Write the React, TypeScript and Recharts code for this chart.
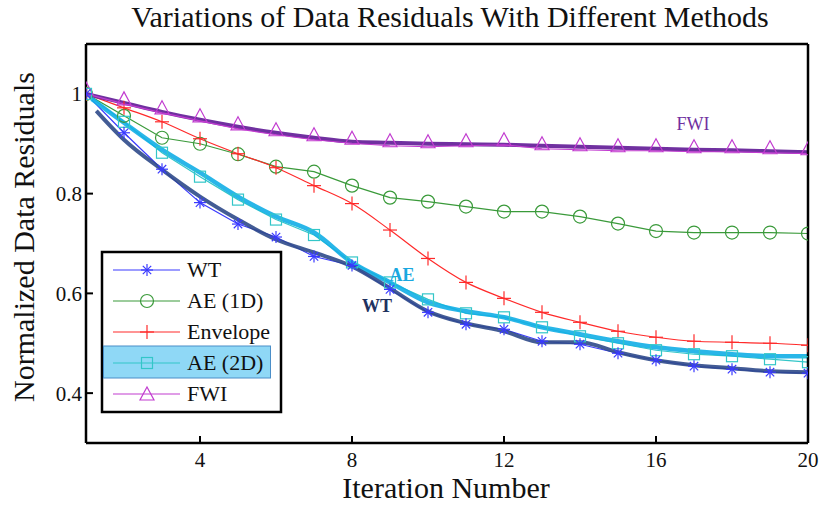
import React from 'react';
import { LineChart, Line, XAxis, YAxis } from 'recharts';

const iterations = [1, 2, 3, 4, 5, 6, 7, 8, 9, 10, 11, 12, 13, 14, 15, 16, 17, 18, 19, 20];
const wtValues = [1.0, 0.922, 0.849, 0.782, 0.739, 0.713, 0.674, 0.656, 0.608, 0.562, 0.538, 0.528, 0.504, 0.498, 0.48, 0.466, 0.454, 0.448, 0.442, 0.44];
const ae1dValues = [1.0, 0.956, 0.912, 0.9, 0.879, 0.854, 0.844, 0.816, 0.792, 0.784, 0.774, 0.764, 0.764, 0.754, 0.74, 0.725, 0.722, 0.722, 0.722, 0.72];
const envelopeValues = [1.0, 0.972, 0.944, 0.91, 0.88, 0.852, 0.816, 0.78, 0.727, 0.67, 0.622, 0.59, 0.562, 0.542, 0.524, 0.512, 0.504, 0.502, 0.5, 0.496];
const ae2dValues = [1.0, 0.944, 0.882, 0.834, 0.788, 0.748, 0.717, 0.662, 0.622, 0.588, 0.56, 0.552, 0.532, 0.514, 0.5, 0.486, 0.478, 0.474, 0.468, 0.462];
const fwiValues = [1.0, 0.98, 0.962, 0.946, 0.93, 0.918, 0.908, 0.901, 0.896, 0.894, 0.896, 0.898, 0.89, 0.888, 0.886, 0.886, 0.884, 0.884, 0.882, 0.88];

const fwiTrendX = [1, 2, 3, 4, 5, 6, 7, 8, 9, 10, 11, 12, 13, 14, 15, 16, 17, 18, 19, 20];
const fwiTrendValues = [1.0, 0.982, 0.964, 0.948, 0.934, 0.922, 0.912, 0.904, 0.902, 0.9, 0.899, 0.898, 0.896, 0.894, 0.892, 0.89, 0.888, 0.887, 0.885, 0.883];
const aeTrendX = [1.15, 2, 3, 4, 5, 6, 7, 8, 9, 10, 11, 12, 13, 14, 15, 16, 17, 18, 19, 20];
const aeTrendValues = [0.99, 0.942, 0.888, 0.842, 0.794, 0.754, 0.722, 0.662, 0.622, 0.582, 0.564, 0.552, 0.532, 0.518, 0.504, 0.492, 0.484, 0.478, 0.474, 0.474];
const wtTrendX = [1.27, 2, 3, 4, 5, 6, 7, 8, 9, 10, 11, 12, 13, 14, 15, 16, 17, 18, 19, 20];
const wtTrendValues = [0.966, 0.908, 0.848, 0.794, 0.748, 0.708, 0.682, 0.654, 0.61, 0.564, 0.54, 0.524, 0.502, 0.502, 0.482, 0.466, 0.456, 0.45, 0.444, 0.442];

const xTicks = [4, 8, 12, 16, 20];
const yTicks = [0.4, 0.6, 0.8, 1];

const legendLabels = ['WT', 'AE (1D)', 'Envelope', 'AE (2D)', 'FWI'];
const titleText = 'Variations of Data Residuals With Different Methods';
const xLabelText = 'Iteration Number';
const yLabelText = 'Normalized Data Residuals';

const C = {
  wt: '#3a3aff',
  ae1d: '#3a9a3a',
  env: '#ff2a2a',
  ae2d: '#33c6c8',
  fwi: '#c23cd0',
  fwiThick: '#7030a0',
  aeThick: '#12aee6',
  wtThick: '#2f4a8a',
};

const FONT = "'Liberation Serif', 'Times New Roman', serif";
const tf = { fontFamily: FONT };

const rows = (xs: number[], ys: number[]) => xs.map((x, i) => ({ x, y: ys[i] }));

const Asterisk = ({ cx, cy, color, s = 6 }: any) => (
  <g stroke={color} strokeWidth={1.2} fill="none">
    <line x1={cx - s} y1={cy} x2={cx + s} y2={cy} />
    <line x1={cx} y1={cy - s} x2={cx} y2={cy + s} />
    <line x1={cx - s * 0.7} y1={cy - s * 0.7} x2={cx + s * 0.7} y2={cy + s * 0.7} />
    <line x1={cx - s * 0.7} y1={cy + s * 0.7} x2={cx + s * 0.7} y2={cy - s * 0.7} />
  </g>
);
const Circ = ({ cx, cy, color }: any) => <circle cx={cx} cy={cy} r={6.5} stroke={color} strokeWidth={1.2} fill="none" />;
const Plus = ({ cx, cy, color, s = 7 }: any) => (
  <g stroke={color} strokeWidth={1.2}>
    <line x1={cx - s} y1={cy} x2={cx + s} y2={cy} />
    <line x1={cx} y1={cy - s} x2={cx} y2={cy + s} />
  </g>
);
const Sq = ({ cx, cy, color }: any) => <rect x={cx - 5.5} y={cy - 5.5} width={11} height={11} stroke={color} strokeWidth={1.2} fill="none" />;
const Tri = ({ cx, cy, color, dy = 0 }: any) => (
  <path d={`M${cx},${cy + dy - 7} L${cx + 7},${cy + dy + 6} L${cx - 7},${cy + dy + 6} Z`} stroke={color} strokeWidth={1.2} fill="none" />
);

const mkDot = (Shape: any, color: string, extra: any = {}) => (p: any) => {
  if (p.cx == null || p.cy == null) return <g key={`e-${p.index}`} />;
  return (
    <g key={`d-${p.index}`}>
      <Shape cx={p.cx} cy={p.cy} color={color} {...extra} />
    </g>
  );
};

const legendShapes = [
  [Asterisk, C.wt],
  [Circ, C.ae1d],
  [Plus, C.env],
  [Sq, C.ae2d],
  [Tri, C.fwi],
];

const axisLine = { stroke: '#000', strokeWidth: 2.5 };
const tickLine = { stroke: '#000', strokeWidth: 2 };

export default function App() {
  return (
    <div style={{ position: 'absolute', left: 0, top: 0, width: 822, height: 505, background: '#fff' }}>
      <LineChart width={822} height={505} margin={{ top: 43, right: 13, bottom: 22, left: 6 }}>
        <XAxis
          xAxisId="b"
          dataKey="x"
          type="number"
          domain={[1, 20]}
          ticks={xTicks}
          orientation="bottom"
          height={40}
          tickSize={-7}
          tickMargin={16}
          allowDataOverflow
          axisLine={axisLine}
          tickLine={tickLine}
          tick={{ fill: '#111', fontSize: 21, fontFamily: FONT, style: tf }}
        />
        <XAxis
          xAxisId="t"
          dataKey="x"
          type="number"
          domain={[1, 20]}
          ticks={xTicks}
          orientation="top"
          height={1}
          tickSize={-7}
          tick={false}
          allowDataOverflow
          axisLine={axisLine}
          tickLine={tickLine}
        />
        <YAxis
          yAxisId="l"
          type="number"
          domain={[0.3, 1.1]}
          ticks={yTicks}
          width={80}
          tickSize={-7}
          tickMargin={11}
          allowDataOverflow
          axisLine={axisLine}
          tickLine={tickLine}
          tick={{ fill: '#111', fontSize: 21, fontFamily: FONT, style: tf }}
        />
        <YAxis
          yAxisId="r"
          orientation="right"
          type="number"
          domain={[0.3, 1.1]}
          ticks={yTicks}
          width={1}
          tickSize={-7}
          tick={false}
          allowDataOverflow
          axisLine={axisLine}
          tickLine={tickLine}
        />
        <Line xAxisId="b" yAxisId="l" data={rows(iterations, ae1dValues)} dataKey="y" stroke={C.ae1d} strokeWidth={1.2} dot={mkDot(Circ, C.ae1d)} isAnimationActive={false} />
        <Line xAxisId="b" yAxisId="l" data={rows(iterations, envelopeValues)} dataKey="y" type="monotone" stroke={C.env} strokeWidth={1.2} dot={mkDot(Plus, C.env)} isAnimationActive={false} />
        <Line xAxisId="b" yAxisId="l" data={rows(fwiTrendX, fwiTrendValues)} dataKey="y" type="monotone" stroke={C.fwiThick} strokeWidth={4} dot={false} isAnimationActive={false} />
        <Line xAxisId="b" yAxisId="l" data={rows(iterations, fwiValues)} dataKey="y" stroke={C.fwi} strokeWidth={1.2} dot={mkDot(Tri, C.fwi, { dy: -5 })} isAnimationActive={false} />
        <Line xAxisId="b" yAxisId="l" data={rows(iterations, ae2dValues)} dataKey="y" stroke={C.ae2d} strokeWidth={1.2} dot={mkDot(Sq, C.ae2d)} isAnimationActive={false} />
        <Line xAxisId="b" yAxisId="l" data={rows(iterations, wtValues)} dataKey="y" stroke={C.wt} strokeWidth={1.2} dot={mkDot(Asterisk, C.wt)} isAnimationActive={false} />
        <Line xAxisId="b" yAxisId="l" data={rows(aeTrendX, aeTrendValues)} dataKey="y" type="monotone" stroke={C.aeThick} strokeWidth={4.5} strokeOpacity={0.9} dot={false} isAnimationActive={false} />
        <Line xAxisId="b" yAxisId="l" data={rows(wtTrendX, wtTrendValues)} dataKey="y" type="monotone" stroke={C.wtThick} strokeWidth={4} strokeOpacity={0.9} dot={false} isAnimationActive={false} />
      </LineChart>
      <svg width={822} height={505} style={{ position: 'absolute', left: 0, top: 0, pointerEvents: 'none', fontFamily: FONT }}>
        <text x={450} y={27} textAnchor="middle" fontSize={30} fill="#111" style={tf}>{titleText}</text>
        <text x={446} y={498} textAnchor="middle" fontSize={30} fill="#111" style={tf}>{xLabelText}</text>
        <text transform="translate(34,237) rotate(-90)" textAnchor="middle" fontSize={30} fill="#111" style={tf}>{yLabelText}</text>
        <text x={693} y={130} textAnchor="middle" fontSize={18} fill={C.fwiThick} style={tf}>FWI</text>
        <text x={402} y={281} textAnchor="middle" fontSize={18} fontWeight="bold" fill="#1aa8e0" style={tf}>AE</text>
        <text x={377} y={312} textAnchor="middle" fontSize={18} fontWeight="bold" fill="#1f3260" style={tf}>WT</text>
        <g>
          <rect x={102} y={252} width={179} height={160} fill="#fff" stroke="#000" strokeWidth={2.5} />
          <rect x={103.5} y={346} width={167} height={32} fill="#8fd8f6" stroke="#4a8ec8" strokeWidth={1} />
          {legendLabels.map((lab, i) => {
            const cy = 270 + i * 31;
            const [Shape, color] = legendShapes[i] as any;
            return (
              <g key={lab}>
                <line x1={113} y1={cy} x2={180} y2={cy} stroke={color} strokeWidth={1.2} />
                <Shape cx={147} cy={cy} color={color} />
                <text x={187} y={cy + 7} fontSize={22} fill="#111" style={tf}>{lab}</text>
              </g>
            );
          })}
        </g>
      </svg>
    </div>
  );
}
